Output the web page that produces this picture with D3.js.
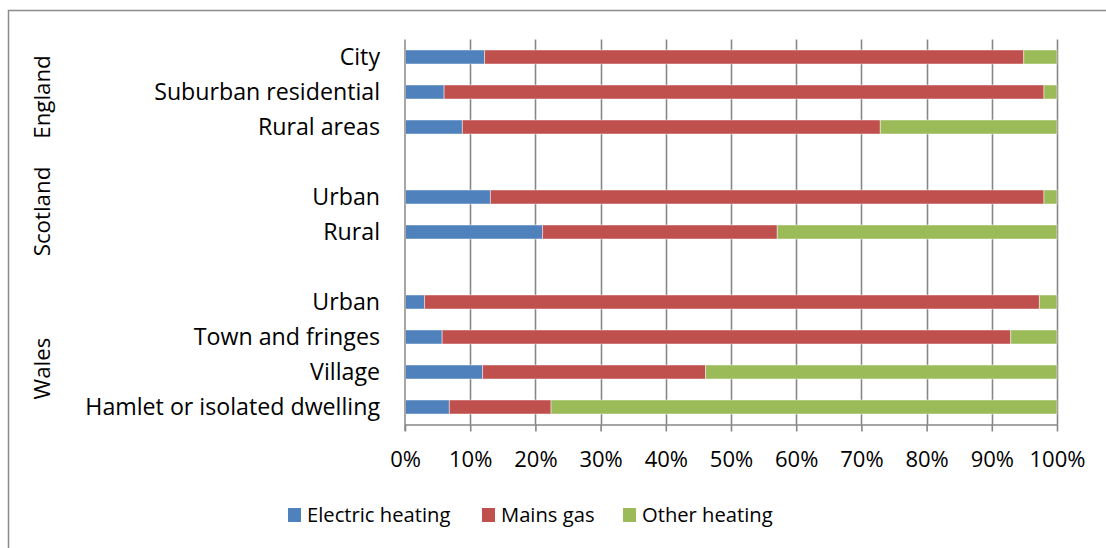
<!DOCTYPE html>
<html>
<head>
<meta charset="utf-8">
<script src="https://cdn.jsdelivr.net/npm/d3@7"></script>
<style>
  html, body { margin: 0; padding: 0; background: #fff; }
  svg { display: block; font-family: "Open Sans", "Noto Sans", sans-serif; }
</style>
</head>
<body>
<svg id="chart" width="1106" height="548"></svg>
<script>
// ---- Data ----
const groups = ["England", "Scotland", "Wales"];
const englandCategories = ["City", "Suburban residential", "Rural areas"];
const scotlandCategories = ["Urban", "Rural"];
const walesCategories = ["Urban", "Town and fringes", "Village", "Hamlet or isolated dwelling"];
const seriesNames = ["Electric heating", "Mains gas", "Other heating"];
const seriesColors = ["#4F81BD", "#C0504D", "#9BBB59"];
// percentages per category, in order England, Scotland, Wales
const electricHeating = [12.2, 6.0, 8.8, 13.1, 21.1, 3.0, 5.7, 11.9, 6.8];
const mainsGas        = [82.7, 92.0, 64.1, 84.9, 36.0, 94.3, 87.2, 34.2, 15.6];
const otherHeating    = [5.1, 2.0, 27.1, 2.0, 42.9, 2.7, 7.1, 53.9, 77.6];
const tickValues = [0, 10, 20, 30, 40, 50, 60, 70, 80, 90, 100];
const tickLabels = ["0%", "10%", "20%", "30%", "40%", "50%", "60%", "70%", "80%", "90%", "100%"];

// ---- Build slots (categories with blank spacer rows between groups) ----
const groupCats = [englandCategories, scotlandCategories, walesCategories];
const slots = [];
const rows = [];
let k = 0;
groupCats.forEach((cats, gi) => {
  if (gi > 0) slots.push("spacer" + gi);
  cats.forEach(c => {
    const id = groups[gi] + "|" + c;
    slots.push(id);
    rows.push({ id, label: c, group: groups[gi],
      values: [electricHeating[k], mainsGas[k], otherHeating[k]] });
    k++;
  });
});

const svg = d3.select("#chart");
const W = 1106, H = 548;

// outer chart border (cropped on right & bottom like reference)
svg.append("rect")
  .attr("x", 8.5).attr("y", 10.5)
  .attr("width", W + 10).attr("height", H + 10)
  .attr("fill", "#fff").attr("stroke", "#8c8c8c").attr("stroke-width", 1.5);

const x = d3.scaleLinear().domain([0, 100]).range([405, 1057]);
const y = d3.scaleBand().domain(slots).range([39.5, 424.5])
  .paddingInner(0.6).paddingOuter(0.3);

// gridlines
svg.append("g").selectAll("line")
  .data(tickValues.slice(1))
  .join("line")
  .attr("x1", d => Math.round(x(d)) + 0.5).attr("x2", d => Math.round(x(d)) + 0.5)
  .attr("y1", 39.5).attr("y2", 424.5)
  .attr("stroke", "#878787").attr("stroke-width", 1.6);

// stacked bars
const stackData = rows.map(r => {
  let acc = 0;
  return r.values.map((v, i) => {
    const seg = { id: r.id, x0: acc, x1: acc + v, i };
    acc += v;
    return seg;
  });
}).flat();

svg.append("g").selectAll("rect")
  .data(stackData)
  .join("rect")
  .attr("x", d => x(d.x0))
  .attr("width", d => Math.max(0, x(Math.min(100, d.x1)) - x(d.x0)))
  .attr("y", d => y(d.id))
  .attr("height", y.bandwidth())
  .attr("fill", d => seriesColors[d.i])
  .attr("stroke", "rgba(255,255,255,0.45)")
  .attr("stroke-width", 1);

// left axis line (0%)
svg.append("line")
  .attr("x1", x(0)).attr("x2", x(0))
  .attr("y1", 39.5).attr("y2", 431)
  .attr("stroke", "#a6a6a6").attr("stroke-width", 2);

// bottom axis
const xAxis = d3.axisBottom(x)
  .tickValues(tickValues)
  .tickFormat((d, i) => tickLabels[i])
  .tickSize(7).tickSizeOuter(0).tickPadding(20);
const gx = svg.append("g").attr("transform", "translate(0,424.5)").call(xAxis);
gx.select(".domain").attr("stroke", "#878787").attr("stroke-width", 1.6);
gx.selectAll(".tick line").attr("stroke", "#878787").attr("stroke-width", 1.6);
gx.selectAll(".tick text")
  .attr("font-family", "'Open Sans', sans-serif")
  .attr("font-size", 22).attr("fill", "#000");

// category labels
svg.append("g").selectAll("text")
  .data(rows)
  .join("text")
  .attr("x", 380)
  .attr("y", d => y(d.id) + y.bandwidth() / 2)
  .attr("dy", "0.35em")
  .attr("text-anchor", "end")
  .attr("font-size", 23.2)
  .attr("fill", "#000")
  .text(d => d.label);

// group labels (rotated)
const groupOffsets = [5, -3, 14];
groups.forEach((g, gi) => {
  const ids = rows.filter(r => r.group === g).map(r => r.id);
  const top = y(ids[0]);
  const bottom = y(ids[ids.length - 1]) + y.bandwidth();
  const cy = (top + bottom) / 2 + groupOffsets[gi];
  svg.append("text")
    .attr("transform", `translate(42,${cy}) rotate(-90)`)
    .attr("dy", "0.35em")
    .attr("text-anchor", "middle")
    .attr("font-size", 22.3)
    .attr("fill", "#000")
    .text(g);
});

// legend
const legendX = [288, 482, 623];
const legend = svg.append("g");
seriesNames.forEach((s, i) => {
  const g = legend.append("g").attr("transform", `translate(${legendX[i]},508)`);
  g.append("rect").attr("width", 13).attr("height", 14).attr("fill", seriesColors[i]);
  g.append("text").attr("x", 19).attr("y", 7).attr("dy", "0.35em")
    .attr("font-size", 20.2).attr("fill", "#000").text(s);
});
</script>
</body>
</html>
